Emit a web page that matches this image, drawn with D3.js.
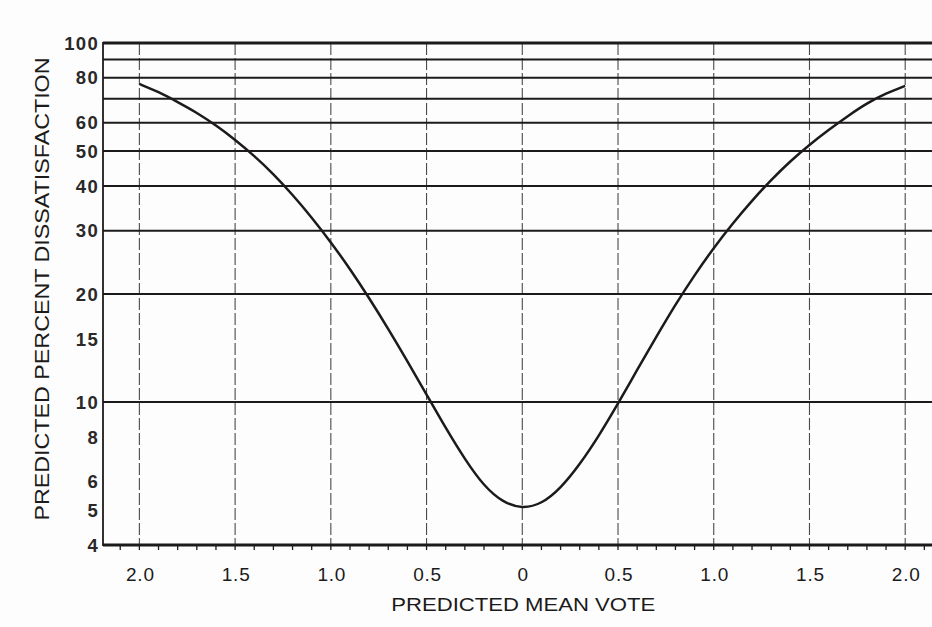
<!DOCTYPE html>
<html>
<head>
<meta charset="utf-8">
<script src="https://cdn.jsdelivr.net/npm/d3@7"></script>
<style>
  html, body { margin: 0; padding: 0; background: #fdfdfd; }
  svg { display: block; }
</style>
</head>
<body>
<svg id="chart" width="932" height="627"></svg>
<script>
// ---- data ----
const pmv = [-2.0, -1.9, -1.8, -1.7, -1.6, -1.5, -1.4, -1.3, -1.2, -1.1, -1.0,
             -0.9, -0.8, -0.7, -0.6, -0.5, -0.4, -0.3, -0.2, -0.1, 0.0,
             0.1, 0.2, 0.3, 0.4, 0.5, 0.6, 0.7, 0.8, 0.9, 1.0,
             1.1, 1.2, 1.3, 1.4, 1.5, 1.6, 1.7, 1.8, 1.9, 2.0];
const ppd = [76.9, 73.1, 68.5, 64.0, 59.0, 53.8, 48.5, 43.2, 37.8, 32.7, 27.9,
             23.5, 19.5, 16.0, 13.0, 10.5, 8.47, 6.93, 5.83, 5.25, 5.05,
             5.2, 5.75, 6.7, 8.05, 9.9, 12.3, 15.2, 18.7, 22.6, 26.9,
             31.5, 36.4, 41.6, 46.9, 52.1, 57.3, 62.6, 68.0, 72.4, 76.0];
const xTicks = [-2.0, -1.5, -1.0, -0.5, 0, 0.5, 1.0, 1.5, 2.0];
const xTickLabels = ["2.0", "1.5", "1.0", "0.5", "0", "0.5", "1.0", "1.5", "2.0"];
const xMinorTicks = [-2.1, -2.0, -1.9, -1.8, -1.7, -1.6, -1.5, -1.4, -1.3, -1.2, -1.1, -1.0,
                     -0.9, -0.8, -0.7, -0.6, -0.5, -0.4, -0.3, -0.2, -0.1, 0.0,
                     0.1, 0.2, 0.3, 0.4, 0.5, 0.6, 0.7, 0.8, 0.9, 1.0,
                     1.1, 1.2, 1.3, 1.4, 1.5, 1.6, 1.7, 1.8, 1.9, 2.0, 2.1];
const yGrid = [4, 10, 20, 30, 40, 50, 60, 70, 80, 90, 100];
const yTickLabels = [4, 5, 6, 8, 10, 15, 20, 30, 40, 50, 60, 80, 100];
const xTitle = "PREDICTED MEAN VOTE";
const yTitle = "PREDICTED PERCENT DISSATISFACTION";

(function () {
// ---- layout ----
const svg = d3.select("#chart");
const mLeft = 103, mRight = 932, mTop = 43, mBottom = 545;
const x = d3.scaleLinear().domain([-2.19, 2.14]).range([mLeft, mRight]);
const y = d3.scaleLog().domain([4, 100]).range([mBottom, mTop]);
const ink = "#1c1a1a";
const fontFam = "'Liberation Sans', Arial, Helvetica, sans-serif";

// vertical dashed grid lines
svg.append("g").selectAll("line").data(xTicks).join("line")
  .attr("x1", d => x(d)).attr("x2", d => x(d))
  .attr("y1", y(100)).attr("y2", y(4))
  .attr("stroke", "#4a4a4a").attr("stroke-width", 1.1)
  .attr("stroke-dasharray", "12,3");

// horizontal grid lines
svg.append("g").selectAll("line").data(yGrid).join("line")
  .attr("x1", mLeft).attr("x2", mRight)
  .attr("y1", d => y(d)).attr("y2", d => y(d))
  .attr("stroke", ink)
  .attr("stroke-width", d => (d === 100 || d === 4) ? 3 : 2);

// left axis line
svg.append("line")
  .attr("x1", mLeft).attr("x2", mLeft).attr("y1", y(100) - 1).attr("y2", y(4) + 1)
  .attr("stroke", ink).attr("stroke-width", 1.8);

// minor ticks under bottom axis
svg.append("g").selectAll("line").data(xMinorTicks).join("line")
  .attr("x1", d => x(d)).attr("x2", d => x(d))
  .attr("y1", y(4)).attr("y2", y(4) + 5)
  .attr("stroke", ink).attr("stroke-width", 1.3);

// x tick labels
svg.append("g").selectAll("text").data(xTicks).join("text")
  .attr("x", d => x(d) + 1).attr("y", y(4) + 36)
  .attr("text-anchor", "middle")
  .attr("font-family", fontFam).attr("font-size", 19)
  .attr("letter-spacing", 0.8)
  .attr("fill", ink)
  .text((d, i) => xTickLabels[i]);

// y tick labels
svg.append("g").selectAll("text").data(yTickLabels).join("text")
  .attr("x", mLeft - 4).attr("y", d => y(d))
  .attr("dy", "0.36em")
  .attr("text-anchor", "end")
  .attr("font-family", fontFam).attr("font-size", 18.5)
  .attr("letter-spacing", 1.3)
  .attr("font-weight", "bold")
  .attr("fill", "#2a2828")
  .text(d => d);

// curve
const line = d3.line()
  .x((d, i) => x(pmv[i]))
  .y(d => y(d))
  .curve(d3.curveBasis);
svg.append("path").datum(ppd)
  .attr("d", line)
  .attr("fill", "none")
  .attr("stroke", ink)
  .attr("stroke-width", 2.5);

// axis titles
svg.append("text")
  .attr("x", x(0) + 1).attr("y", 611)
  .attr("text-anchor", "middle")
  .attr("font-family", fontFam).attr("font-size", 19)
  .attr("textLength", 264).attr("lengthAdjust", "spacingAndGlyphs")
  .attr("fill", ink)
  .text(xTitle);

svg.append("text")
  .attr("transform", "translate(49," + 289 + ") rotate(-90)")
  .attr("text-anchor", "middle")
  .attr("font-family", fontFam).attr("font-size", 20)
  .attr("textLength", 463).attr("lengthAdjust", "spacingAndGlyphs")
  .attr("fill", ink)
  .text(yTitle);
})();
</script>
</body>
</html>
